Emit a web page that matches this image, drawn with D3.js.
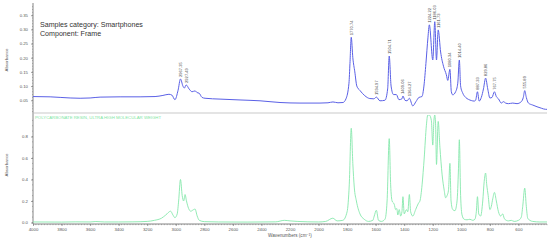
<!DOCTYPE html>
<html><head><meta charset="utf-8">
<script src="https://cdn.jsdelivr.net/npm/d3@7/dist/d3.min.js"></script>
<style>html,body{margin:0;padding:0;background:#fff;}svg{display:block;font-family:"Liberation Sans",Arial,sans-serif;-webkit-font-smoothing:antialiased;}</style>
</head><body><svg id="c" width="550" height="242"></svg>
<script>
// ---- data ----
const sampleWavenumbers = [4000,3880,3740,3670,3600,3530,3390,3250,3145,3090,3048,3027,3006,2984,2967,2950,2940,2927,2907,2886,2865,2851,2837,2816,2795,2690,2550,2410,2270,2130,1990,1934,1899,1864,1829,1808,1787,1780,1771,1760,1746,1732,1711,1676,1641,1613,1595,1570,1535,1516,1505,1492,1475,1455,1437,1416,1409,1395,1380,1364,1340,1318,1297,1276,1262,1248,1234,1224,1200,1186,1174,1162,1145,1125,1105,1095,1080,1070,1060,1040,1025,1014,1005,990,970,950,930,910,900,887,875,860,845,830,815,800,785,768,755,740,720,705,690,670,640,610,580,566,556,545,530,500,470,440,410,400];
const sampleAbsorbance = [0.063,0.062,0.058,0.057,0.058,0.061,0.062,0.062,0.063,0.067,0.071,0.068,0.052,0.085,0.125,0.1,0.093,0.104,0.09,0.08,0.083,0.077,0.075,0.06,0.057,0.054,0.051,0.048,0.042,0.04,0.04,0.041,0.044,0.041,0.042,0.055,0.11,0.18,0.272,0.2,0.15,0.1,0.085,0.066,0.056,0.055,0.061,0.048,0.05,0.09,0.206,0.1,0.07,0.07,0.052,0.055,0.065,0.05,0.048,0.057,0.03,0.045,0.06,0.063,0.1,0.18,0.27,0.316,0.192,0.327,0.192,0.298,0.22,0.17,0.14,0.12,0.159,0.08,0.069,0.08,0.11,0.192,0.1,0.075,0.06,0.053,0.049,0.047,0.05,0.08,0.047,0.06,0.09,0.128,0.09,0.058,0.06,0.08,0.063,0.055,0.04,0.045,0.04,0.038,0.04,0.038,0.045,0.06,0.084,0.06,0.04,0.033,0.027,0.022,0.018,0.018];
const refWavenumbers = [4000,3800,3700,3600,3560,3500,3400,3300,3200,3150,3100,3070,3036,3020,3006,2990,2980,2967,2955,2945,2935,2925,2910,2895,2875,2865,2850,2835,2800,2700,2500,2300,2240,2200,2150,2000,1950,1900,1870,1830,1800,1785,1771,1760,1750,1735,1710,1680,1650,1620,1610,1595,1580,1560,1535,1520,1505,1495,1485,1470,1460,1452,1445,1435,1425,1416,1409,1400,1385,1375,1364,1355,1340,1320,1300,1290,1275,1260,1245,1235,1224,1210,1200,1192,1186,1180,1174,1162,1150,1135,1120,1110,1100,1090,1080,1072,1060,1045,1030,1020,1014,1005,995,980,960,940,920,905,895,887,878,865,850,840,830,822,812,800,790,780,768,755,740,725,710,700,685,670,650,630,600,580,570,556,545,535,520,500,450,400];
const refAbsorbance = [0.005,0.004,0.006,0.005,0.009,0.005,0.005,0.006,0.01,0.02,0.04,0.07,0.105,0.07,0.045,0.08,0.2,0.4,0.25,0.2,0.26,0.2,0.13,0.105,0.12,0.125,0.06,0.02,0.008,0.005,0.004,0.006,0.02,0.015,0.01,0.005,0.01,0.04,0.015,0.02,0.1,0.35,0.877,0.55,0.33,0.2,0.08,0.03,0.01,0.02,0.06,0.114,0.02,0.01,0.03,0.2,0.78,0.35,0.2,0.17,0.12,0.13,0.07,0.12,0.06,0.1,0.24,0.08,0.12,0.1,0.26,0.1,0.06,0.12,0.18,0.2,0.35,0.6,0.9,1.0,1.0,0.95,0.72,0.95,1.0,0.9,0.54,0.94,0.7,0.45,0.3,0.23,0.25,0.3,0.55,0.2,0.12,0.11,0.2,0.5,0.77,0.25,0.07,0.03,0.025,0.03,0.02,0.03,0.1,0.24,0.08,0.06,0.2,0.38,0.46,0.35,0.25,0.12,0.15,0.22,0.28,0.2,0.1,0.06,0.08,0.04,0.02,0.015,0.02,0.01,0.02,0.05,0.15,0.32,0.15,0.04,0.02,0.01,0.005,0.005];
const peakLabels = ["2967.35","2927.49","1770.74","1594.97","1504.71","1409.06","1364.27","1224.22","1186.03","1161.73","1080.34","1014.40","887.33","829.86","767.75","555.89"];
const xTicks = [4000,3800,3600,3400,3200,3000,2800,2600,2400,2200,2000,1800,1600,1400,1200,1000,800,600];
const topYTicks = [0.05,0.10,0.15,0.20,0.25,0.30,0.35];
const botYTicks = [0.0,0.2,0.4,0.6,0.8];
const titleLines = ["Samples category: Smartphones","Component: Frame"];
const refName = "POLYCARBONATE RESIN, ULTRA HIGH MOLECULAR WEIGHT";

// ---- drawing ----
const svg = d3.select("#c");
const x = d3.scaleLinear().domain([4000,400]).range([33,547]);
const yTop = d3.scaleLinear().domain([0.005,0.393]).range([113,3]);
const yBot = d3.scaleLinear().domain([-0.014,1.0]).range([224,115]);

const defs = svg.append("defs");
defs.append("clipPath").attr("id","ct").append("rect").attr("x",33).attr("y",0).attr("width",515).attr("height",113);
defs.append("clipPath").attr("id","cb").append("rect").attr("x",33).attr("y",115).attr("width",515).attr("height",109);

const tickCol = "#555";
const gTop = svg.append("g").attr("transform","translate(33,0)");
gTop.call(d3.axisLeft(yTop).tickValues(topYTicks).tickFormat(d3.format(".2f")).tickSize(2).tickPadding(3));
gTop.selectAll("line.mn").data(d3.range(0.01,0.39,0.01)).join("line").attr("class","mn")
  .attr("x1",0).attr("x2",-1).attr("y1",d=>yTop(d)).attr("y2",d=>yTop(d)).attr("stroke","#777").attr("stroke-width",0.5);
gTop.select(".domain").attr("d","M0,3V113");

const gBot = svg.append("g").attr("transform","translate(33,0)");
gBot.call(d3.axisLeft(yBot).tickValues(botYTicks).tickFormat(d3.format(".1f")).tickSize(2).tickPadding(3));
gBot.selectAll("line.mn").data(d3.range(0,1.0,0.05)).join("line").attr("class","mn")
  .attr("x1",0).attr("x2",-1).attr("y1",d=>yBot(d)).attr("y2",d=>yBot(d)).attr("stroke","#777").attr("stroke-width",0.5);
gBot.select(".domain").attr("d","M0,113V224");

const gX = svg.append("g").attr("transform","translate(0,224)");
gX.call(d3.axisBottom(x).tickValues(xTicks).tickFormat(d3.format("d")).tickSize(2).tickPadding(2));
gX.selectAll("line.mn").data(d3.range(400,4000,20)).join("line").attr("class","mn")
  .attr("x1",d=>x(d)).attr("x2",d=>x(d)).attr("y1",0).attr("y2",1.2).attr("stroke","#777").attr("stroke-width",0.5);
gX.select(".domain").attr("d","M33,0H547");

svg.selectAll(".tick text").attr("fill",tickCol).style("font-size","4.3px");
svg.selectAll(".domain").attr("stroke","#666").attr("stroke-width",0.8);
svg.selectAll(".tick line").attr("stroke","#666").attr("stroke-width",0.6);

svg.append("line").attr("x1",33).attr("x2",547).attr("y1",113).attr("y2",113).attr("stroke","#bbb").attr("stroke-width",0.8);

svg.append("text").attr("transform","translate(8,60) rotate(-90)").attr("text-anchor","middle").attr("fill",tickCol).style("font-size","4.3px").text("Absorbance");
svg.append("text").attr("transform","translate(8,165) rotate(-90)").attr("text-anchor","middle").attr("fill",tickCol).style("font-size","4.3px").text("Absorbance");
const xl = svg.append("text").attr("x",290).attr("y",237).attr("text-anchor","middle").attr("fill",tickCol).style("font-size","4.6px");
xl.append("tspan").text("Wavenumbers (cm");
xl.append("tspan").attr("dy","-1.5").style("font-size","3.4px").text("−1");
xl.append("tspan").attr("dy","1.5").text(")");

const sample = sampleWavenumbers.map((w,i)=>({w,a:sampleAbsorbance[i]}));
const ref = refWavenumbers.map((w,i)=>({w,a:refAbsorbance[i]}));
svg.append("path").datum(sample).attr("clip-path","url(#ct)")
  .attr("d",d3.line().x(d=>x(d.w)).y(d=>yTop(d.a)).curve(d3.curveMonotoneX))
  .attr("fill","none").attr("stroke","#5a60e6").attr("stroke-width",1);
svg.append("path").datum(ref).attr("clip-path","url(#cb)")
  .attr("d",d3.line().x(d=>x(d.w)).y(d=>yBot(d.a)).curve(d3.curveMonotoneX))
  .attr("fill","none").attr("stroke","#86e8ab").attr("stroke-width",0.9);

const lookup = new Map(sample.map(d=>[d.w,d.a]));
svg.selectAll("text.pk").data(peakLabels).join("text").attr("class","pk")
  .attr("transform",d=>{const w=+d; const a=lookup.get(Math.round(w)); return `translate(${x(w)},${yTop(a)-2}) rotate(-90)`;})
  .attr("dy","0.35em").attr("fill","#444").style("font-size","4.1px").text(d=>d);

svg.selectAll("text.tt").data(titleLines).join("text").attr("class","tt")
  .attr("x",40).attr("y",(d,i)=>27.3+i*8.3).style("fill","#333")
  .style("font-size","7.1px").text(d=>d);

svg.append("text").attr("x",35).attr("y",119).attr("fill","#7fe6a4").style("font-size","4.3px").text(refName);
</script></body></html>
